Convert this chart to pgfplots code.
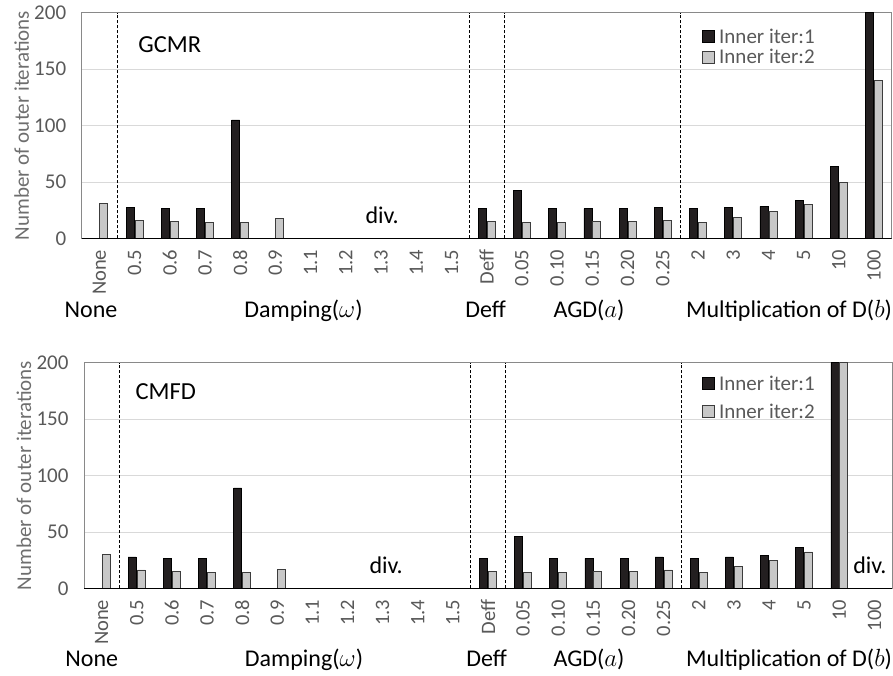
\documentclass[border=0pt]{standalone}
\usepackage{pgfplots}
\pgfplotsset{compat=1.18}
\usepackage{fontspec}
\setmainfont{Carlito}
\definecolor{txtgray}{RGB}{89,89,89}
\definecolor{lblgray}{RGB}{110,110,110}
\definecolor{barblack}{RGB}{35,31,32}
\definecolor{bargray}{RGB}{200,200,200}
\definecolor{baredge}{RGB}{60,60,60}
\definecolor{boxgray}{RGB}{137,137,137}
\definecolor{gridgray}{RGB}{217,217,217}
\tikzset{grp/.style={font=\fontsize{24}{28}\selectfont, anchor=base, text=black}}
\pgfplotsset{
  mystyle/.style={
    scale only axis,
    width=810pt, height=225.6pt,
    anchor=south west,
    xmin=-0.5, xmax=22.5,
    ymin=0, ymax=200,
    ytick={0,50,100,150,200},
    xtick={0,...,22},
    xticklabels={None,0.5,0.6,0.7,0.8,0.9,1.1,1.2,1.3,1.4,1.5,Deff,0.05,0.10,0.15,0.20,0.25,2,3,4,5,10,100},
    major tick length=0pt,
    ymajorgrids,
    major grid style={gridgray, line width=0.8pt},
    axis line style={boxgray, line width=0.8pt},
    /pgf/number format/assume math mode=true,
    yticklabel style={font=\fontsize{21}{24}\selectfont, text=txtgray, xshift=-12pt},
    xticklabel style={font=\fontsize{20.5}{23}\selectfont, text=txtgray, rotate=90, anchor=east, xshift=-8pt},
    ylabel={Number of outer iterations},
    every axis y label/.style={at={(axis description cs:0,0.5)}, rotate=90, anchor=center, yshift=60pt, font=\fontsize{21}{24}\selectfont, text=lblgray},
    ybar=1pt, bar width=8pt,
    extra x ticks={0.5,10.5,11.5,16.5},
    extra x tick labels={},
    extra x tick style={grid=major, major grid style={black, densely dashed, line width=0.6pt}},
    legend style={draw=none, fill=none, inner sep=0pt, font=\fontsize{21}{24}\selectfont, text=txtgray, nodes={inner xsep=4pt, inner ysep=1pt}},
    legend cell align=left,
    legend image code/.code={\draw[#1] (0pt,-6pt) rectangle (12pt,6pt);},
    clip=true,
  },
  b1/.style={fill=barblack, draw=black, line width=0.6pt},
  b2/.style={fill=bargray, draw=baredge, line width=0.8pt},
}
\begin{document}
\begin{tikzpicture}
\path[use as bounding box] (0,0) rectangle (893pt,-675pt);
% ---------------- GCMR ----------------
\begin{axis}[mystyle, at={(81.7pt,-238.3pt)},
  legend style={at={(0.766,0.935)}, anchor=north west, row sep=3pt}]
\addplot[b1] coordinates {(1,27.3)(2,26.4)(3,26.4)(4,105)(11,26.4)(12,42.7)(13,26.4)(14,26.4)(15,26.4)(16,27.3)(17,26.4)(18,27.3)(19,28.4)(20,33.5)(21,63.4)(22,200)};
\addplot[b2] coordinates {(0,31)(1,16)(2,15)(3,14)(4,14)(5,17.5)(11,15)(12,14)(13,14)(14,15)(15,15)(16,16)(17,14)(18,18.4)(19,24)(20,30)(21,49.8)(22,140)};
\legend{Inner iter:1, Inner iter:2}
\draw[black, line width=0.9pt] (rel axis cs:0,0) -- (rel axis cs:1,0);
\node[font=\fontsize{24.5}{29}\selectfont] at (axis cs:2.0,172) {GCMR};
\node[font=\fontsize{24}{28}\selectfont] at (axis cs:8.03,20.7) {div.};
\end{axis}
\node[grp] at (91pt,-317pt) {None};
\node[grp] at (303.5pt,-317pt) {Damping($\omega$)};
\node[grp] at (485.5pt,-317pt) {Deff};
\node[grp] at (589pt,-317pt) {AGD($a$)};
\node[grp] at (789pt,-317pt) {Multiplication of D($b$)};
% ---------------- CMFD ----------------
\begin{axis}[mystyle, at={(84pt,-588.3pt)}, width=808pt,
  legend style={at={(0.765,0.948)}, anchor=north west, row sep=10pt}]
\addplot[b1] coordinates {(1,27.8)(2,26.6)(3,26.6)(4,89)(11,26.6)(12,45.8)(13,26.6)(14,26.6)(15,26.6)(16,27.8)(17,26.6)(18,27.8)(19,29)(20,36.6)(21,200)};
\addplot[b2] coordinates {(0,30.1)(1,16.3)(2,15)(3,14.2)(4,14.2)(5,16.8)(11,15)(12,14.2)(13,14.2)(14,15)(15,15)(16,16.3)(17,14.2)(18,19.2)(19,25.1)(20,32.2)(21,200)};
\legend{Inner iter:1, Inner iter:2}
\draw[black, line width=0.9pt] (rel axis cs:0,0) -- (rel axis cs:1,0);
\node[font=\fontsize{24.5}{29}\selectfont] at (axis cs:1.83,174) {CMFD};
\node[font=\fontsize{24}{28}\selectfont] at (axis cs:8.1,20.6) {div.};
\node[font=\fontsize{24}{28}\selectfont] at (axis cs:21.87,20.6) {div.};
\end{axis}
\node[grp] at (91.7pt,-666.7pt) {None};
\node[grp] at (304pt,-666.7pt) {Damping($\omega$)};
\node[grp] at (486.7pt,-666.7pt) {Deff};
\node[grp] at (589pt,-666.7pt) {AGD($a$)};
\node[grp] at (789pt,-666.7pt) {Multiplication of D($b$)};
\end{tikzpicture}
\end{document}
